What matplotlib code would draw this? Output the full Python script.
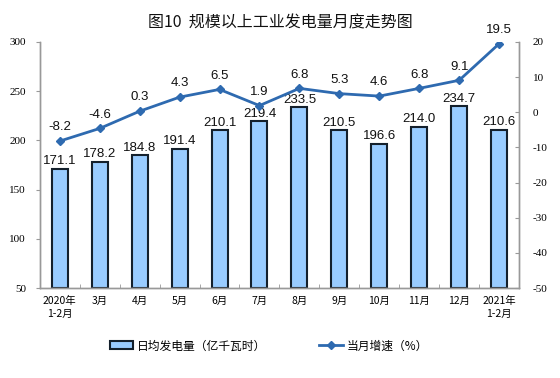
import matplotlib
matplotlib.use("Agg")
import matplotlib.pyplot as plt
import numpy as np

plt.rcParams['font.family'] = ['Noto Sans CJK SC', 'DejaVu Sans']

categories = ["2020年\n1-2月", "3月", "4月", "5月", "6月", "7月", "8月", "9月", "10月", "11月", "12月", "2021年\n1-2月"]
daily_output = [171.1, 178.2, 184.8, 191.4, 210.1, 219.4, 233.5, 210.5, 196.6, 214.0, 234.7, 210.6]
growth = [-8.2, -4.6, 0.3, 4.3, 6.5, 1.9, 6.8, 5.3, 4.6, 6.8, 9.1, 19.5]
left_ticks = [50, 100, 150, 200, 250, 300]
right_ticks = [-50, -40, -30, -20, -10, 0, 10, 20]

fig = plt.figure(figsize=(5.6, 3.78), dpi=100)
ax = fig.add_axes([0.071, 0.238, 0.856, 0.651])
ax2 = ax.twinx()

x = np.arange(len(categories))
bars = ax.bar(x, [v - 50 for v in daily_output], bottom=50, width=0.4,
              color='#99CCFF', edgecolor='#14202C', linewidth=1.5,
              label='日均发电量（亿千瓦时）', zorder=2)
for xi, v in zip(x, daily_output):
    ax.text(xi, v + 1.5, f"{v:.1f}", ha='center', va='bottom', fontsize=9.5,
            family='Liberation Sans', color='#111111')

ax.set_xlim(-0.5, len(categories) - 0.5)
ax.set_ylim(50, 300)
ax.set_yticks(left_ticks)
ax.set_yticklabels([str(t) for t in left_ticks], fontsize=8, family='Liberation Serif')
ax.set_xticks(x)
ax.set_xticklabels(categories, fontsize=7.5, linespacing=1.3)
ax.set_xticks(np.arange(-0.5, len(categories), 1), minor=True)
ax.tick_params(axis='x', which='major', length=0, pad=6)
ax.tick_params(axis='x', which='minor', length=3, direction='in', color='#999999')
ax.tick_params(axis='y', length=3, direction='out', color='#999999', pad=7)

line, = ax2.plot(x, growth, color='#2E6AB0', linewidth=2, marker='D', markersize=4,
                 label='当月增速（%）', zorder=3)
for xi, v in zip(x, growth):
    ax2.text(xi, v + 2.2, f"{v:.1f}", ha='center', va='bottom', fontsize=9.5,
             family='Liberation Sans', color='#111111')
ax2.set_ylim(-50, 20)
ax2.set_yticks(right_ticks)
ax2.set_yticklabels([str(t) for t in right_ticks], fontsize=8, family='Liberation Serif')
ax2.tick_params(axis='y', length=3, direction='in', color='#999999', pad=10)

for a in (ax, ax2):
    a.spines['top'].set_visible(False)
    for s in ('left', 'right', 'bottom'):
        a.spines[s].set_color('#999999')
        a.spines[s].set_linewidth(1)

fig.text(0.5, 0.94, "图10  规模以上工业发电量月度走势图", ha='center', va='center',
         fontsize=11.5, color='#111111')

fig.legend([bars, line], ['日均发电量（亿千瓦时）', '当月增速（%）'],
           loc='center', bbox_to_anchor=(0.48, 0.085), ncol=2, frameon=False,
           fontsize=8.5, columnspacing=4.5, handlelength=2.0, handletextpad=0.3)

fig.savefig("out.png", dpi=100)
